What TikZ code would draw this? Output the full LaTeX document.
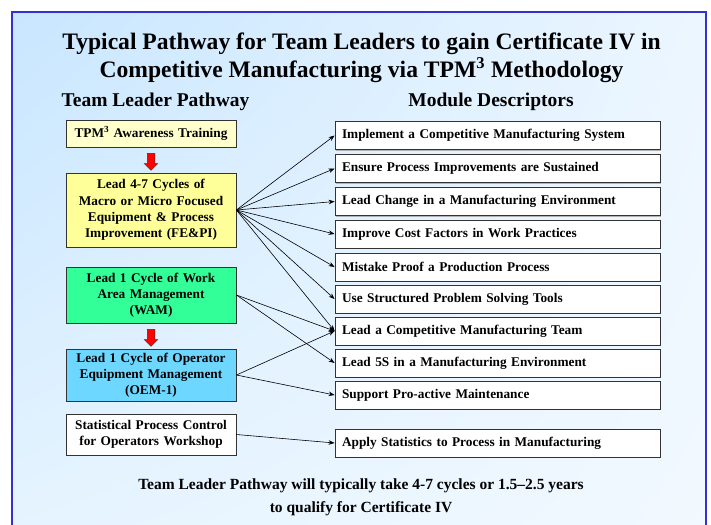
\documentclass[tikz,border=0pt]{standalone}
\usepackage{fontspec}
\setmainfont{Liberation Serif}
\usetikzlibrary{arrows.meta,shapes.arrows,shadows,shadings,calc}
\definecolor{framecol}{RGB}{51,51,204}
\definecolor{bgA}{RGB}{200,230,255}
\definecolor{bgB}{RGB}{236,246,255}
\definecolor{bgC}{RGB}{230,244,255}
\definecolor{bgD}{RGB}{242,249,255}
\definecolor{lyellow}{RGB}{255,255,204}
\definecolor{myellow}{RGB}{255,255,153}
\definecolor{mgreen}{RGB}{51,255,153}
\definecolor{mblue}{RGB}{110,215,255}
\definecolor{edge}{RGB}{51,51,51}
\tikzset{
  lbox/.style={draw=edge, line width=0.8pt, minimum width=170pt, text width=164pt, align=center,
    inner xsep=3pt, inner ysep=2pt, font=\fontsize{13.3}{16.2}\selectfont\bfseries,
    drop shadow={shadow xshift=1pt, shadow yshift=-1pt, fill=gray!60, opacity=1}},
  rbox/.style={draw=edge, fill=white, line width=0.8pt, minimum width=325pt, minimum height=28pt,
    text width=311pt, align=left, inner xsep=7pt, font=\fontsize{13.3}{15}\selectfont\bfseries,
    drop shadow={shadow xshift=1pt, shadow yshift=-1pt, fill=gray!60, opacity=1}},
  conn/.style={line width=0.6pt, -{Stealth[length=6pt,width=4.5pt]}},
  redarr/.style={single arrow, shape border rotate=270, fill=red, draw=edge, line width=0.5pt,
    inner sep=3.5pt, minimum height=17pt, single arrow head extend=3pt},
  hdr/.style={font=\fontsize{19.5}{22}\selectfont\bfseries},
}
\begin{document}
\begin{tikzpicture}[x=1pt,y=-1pt]
\useasboundingbox (0,0) rectangle (711,524);
\begin{scope}
\clip (0,0) rectangle (711,524);
\fill[white] (0,0) rectangle (711,524);
\shade[upper left=bgA, upper right=bgB, lower left=bgC, lower right=bgD] (12,12) rectangle (706,540);
\draw[framecol, line width=2pt] (12,540) -- (12,12) -- (706,12) -- (706,540);
\end{scope}

\node[font=\fontsize{23.6}{28}\selectfont\bfseries, align=center] (title) at (361.5,57.5)
  {Typical Pathway for Team Leaders to gain Certificate IV in\\Competitive Manufacturing via TPM\textsuperscript{3} Methodology};
\node[hdr] (h1) at (155.5,102) {Team Leader Pathway};
\node[hdr] (h2) at (491,102) {Module Descriptors};

\node[lbox, fill=lyellow, minimum height=27pt] (tpm) at (151,133.5) {TPM\textsuperscript{3} Awareness Training};
\node[lbox, fill=myellow, minimum height=74pt] (fepi) at (151,210) {Lead 4-7 Cycles of\\Macro or Micro Focused\\Equipment \& Process\\Improvement (FE\&PI)};
\node[lbox, fill=mgreen, minimum height=56pt] (wam) at (151,295) {Lead 1 Cycle of Work\\Area Management\\(WAM)};
\node[lbox, fill=mblue, minimum height=52pt] (oem) at (151,375) {Lead 1 Cycle of Operator\\Equipment Management\\(OEM-1)};
\node[lbox, fill=white, minimum height=41pt] (spc) at (151,434.5) {Statistical Process Control\\for Operators Workshop};

\node[redarr] (ra1) at ($(tpm.south)!0.5!(fepi.north)$) {};
\node[redarr] (ra2) at ($(wam.south)!0.5!(oem.north)$) {};

\node[rbox] (m1) at (497.5,135.5) {Implement a Competitive Manufacturing System};
\node[rbox] (m2) at (497.5,168.5) {Ensure Process Improvements are Sustained};
\node[rbox] (m3) at (497.5,201.5) {Lead Change in a Manufacturing Environment};
\node[rbox] (m4) at (497.5,234) {Improve Cost Factors in Work Practices};
\node[rbox] (m5) at (497.5,267) {Mistake Proof a Production Process};
\node[rbox] (m6) at (497.5,299) {Use Structured Problem Solving Tools};
\node[rbox] (m7) at (497.5,331) {Lead a Competitive Manufacturing Team};
\node[rbox] (m8) at (497.5,363) {Lead 5S in a Manufacturing Environment};
\node[rbox] (m9) at (497.5,395) {Support Pro-active Maintenance};
\node[rbox] (m10) at (497.5,443) {Apply Statistics to Process in Manufacturing};

\foreach \t in {m1,m2,m3,m4,m5,m6,m7} \draw[conn] (fepi.east) -- (\t.west);
\draw[conn] (wam.east) -- (m7.west);
\draw[conn] (wam.east) -- (m8.west);
\draw[conn] (oem.east) -- (m7.west);
\draw[conn] (oem.east) -- (m9.west);
\draw[conn] (spc.east) -- (m10.west);

\node[font=\fontsize{15.5}{23}\selectfont\bfseries, align=center] (foot) at (361,497)
  {Team Leader Pathway will typically take 4-7 cycles or 1.5--2.5 years\\to qualify for Certificate IV};
\end{tikzpicture}
\end{document}
